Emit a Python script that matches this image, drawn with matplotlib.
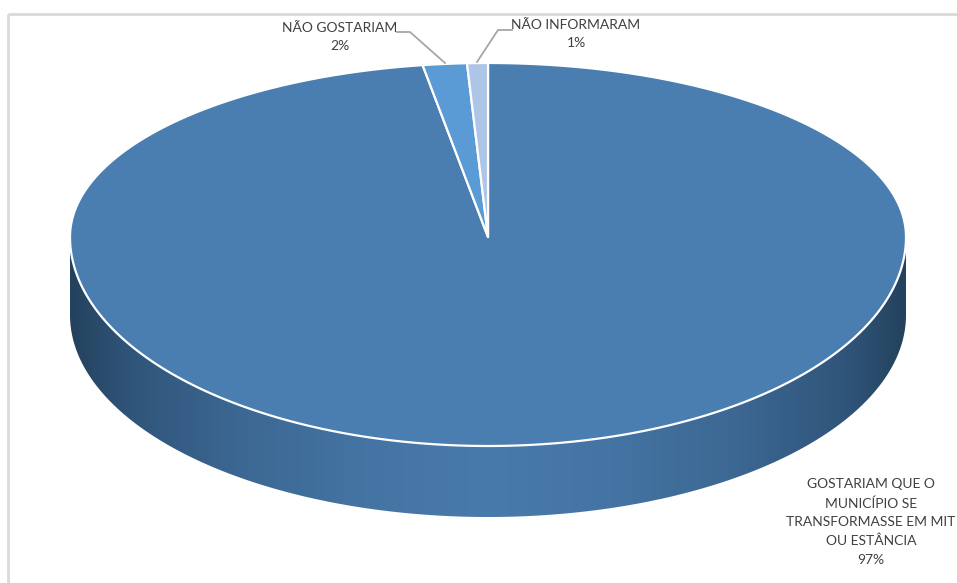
import numpy as np
import matplotlib

matplotlib.use("Agg")
import matplotlib.pyplot as plt
from matplotlib.colors import LinearSegmentedColormap
from matplotlib.patches import Polygon

plt.rcParams["font.family"] = ["Lato", "DejaVu Sans"]

# slice sizes as drawn, labels carry the rounded percentages
categories = [
    "GOSTARIAM QUE O\nMUNICÍPIO SE\nTRANSFORMASSE EM MIT\nOU ESTÂNCIA",
    "NÃO GOSTARIAM",
    "NÃO INFORMARAM",
]
values = [97.5, 1.7, 0.8]
percent_labels = ["97%", "2%", "1%"]
slice_colors = ["#4A7EB0", "#5B9BD5", "#ADC5E7"]

CX, CY = 488, 237
RX, RY_TOP, RY_BOTTOM = 418, 174, 209
DEPTH_CY, DEPTH_RY = 315, 202
TEXT = "#404040"
LEADER = "#A6A6A6"
FRAME = "#D9D9D9"


def rim(theta):
    """Point on the top face, theta clockwise from 12 o'clock."""
    ry = np.where(np.cos(theta) > 0, RY_TOP, RY_BOTTOM)
    return CX + RX * np.sin(theta), CY - ry * np.cos(theta)


fig = plt.figure(figsize=(9.57, 5.83), dpi=100)
ax = fig.add_axes([0, 0, 1, 1])
ax.set_xlim(0, 957)
ax.set_ylim(583, 0)
ax.axis("off")

# chart frame, only top and left fall inside the crop
ax.plot([8, 8], [14, 583], color=FRAME, lw=2, solid_capstyle="butt")
ax.plot([8, 957], [14, 14], color=FRAME, lw=2, solid_capstyle="butt")

# side wall with horizontal shading
shade = LinearSegmentedColormap.from_list(
    "side",
    [(0, "#24425E"), (0.07, "#30557A"), (0.2, "#3C6792"), (0.35, "#4474A3"),
     (0.5, "#487AAB"), (0.65, "#4474A3"), (0.8, "#3C6792"), (0.93, "#30557A"), (1, "#24425E")],
)
t = np.linspace(np.pi / 2, 3 * np.pi / 2, 300)
xs, ys = rim(t)
low_x = CX + RX * np.sin(t)
low_y = DEPTH_CY - DEPTH_RY * np.cos(t)
wall = Polygon(np.r_[np.c_[xs, ys], np.c_[low_x, low_y][::-1]], closed=True,
               transform=ax.transData, fc="none", ec="none")
ax.add_patch(wall)
img = ax.imshow(np.linspace(0, 1, 400)[None, :], cmap=shade, aspect="auto",
                extent=[CX - RX, CX + RX, 520, 230], zorder=2)
img.set_clip_path(wall)
ax.set_xlim(0, 957)
ax.set_ylim(583, 0)

# top face
edges = np.cumsum([0] + values) / sum(values) * 2 * np.pi
for start, end, color in zip(edges[:-1], edges[1:], slice_colors):
    arc = np.linspace(start, end, 400)
    px, py = rim(arc)
    pts = np.r_[[[CX, CY]], np.c_[px, py]]
    ax.add_patch(Polygon(pts, closed=True, fc=color, ec="white", lw=1.6, zorder=3,
                         joinstyle="round"))

# labels
ax.text(871, 522, categories[0] + "\n" + percent_labels[0], ha="center", va="center",
        fontsize=10, color=TEXT, linespacing=1.65, clip_on=True, zorder=5)
ax.text(340, 37, categories[1] + "\n" + percent_labels[1], ha="center", va="center",
        fontsize=10, color=TEXT, linespacing=1.65, zorder=5)
ax.text(576, 34, categories[2] + "\n" + percent_labels[2], ha="center", va="center",
        fontsize=10, color=TEXT, linespacing=1.65, zorder=5)

# leader lines
ax.plot([397, 410, 445], [32, 32, 63], color=LEADER, lw=1.3, zorder=4)
ax.plot([512, 498, 477], [30, 30, 62], color=LEADER, lw=1.3, zorder=4)

fig.savefig("out.png", dpi=100)
